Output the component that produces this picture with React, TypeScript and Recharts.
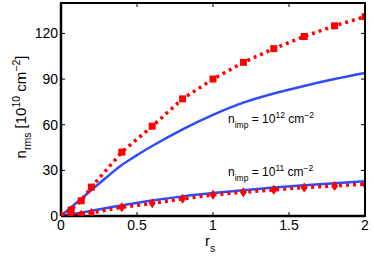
import { LineChart, Line, XAxis, YAxis } from 'recharts';

// n_imp = 1e12 cm^-2, red squares (dotted)
const rsHigh = [0, 0.067, 0.133, 0.2, 0.4, 0.6, 0.8, 1.0, 1.2, 1.4, 1.6, 1.8, 2.0];
const nHigh = [0, 4, 10, 19, 42, 59, 77, 90, 101, 110, 118, 125, 131];

// n_imp = 1e12 cm^-2, blue solid
const rsHighFit = [0, 0.1, 0.2, 0.3, 0.4, 0.5, 0.6, 0.8, 1.0, 1.2, 1.4, 1.6, 1.8, 2.0];
const nHighFit = [0, 8.5, 17, 25.5, 33.5, 40, 46, 57, 66.5, 74.5, 80.5, 85.5, 90, 94];

// n_imp = 1e11 cm^-2, red diamonds (dotted)
const rsLow = [0, 0.067, 0.133, 0.2, 0.4, 0.6, 0.8, 1.0, 1.2, 1.4, 1.6, 1.8, 2.0];
const nLow = [0, 0.5, 0.9, 2, 5.7, 8.3, 11.3, 13.9, 15.6, 17.2, 18.7, 19.8, 20.9];

// n_imp = 1e11 cm^-2, blue solid
const rsLowFit = [0, 0.1, 0.2, 0.4, 0.6, 0.8, 1.0, 1.2, 1.4, 1.6, 1.8, 2.0];
const nLowFit = [0, 1.6, 3.4, 7, 10.2, 12.9, 15.1, 17, 18.7, 20.2, 21.6, 22.8];

const xTicks = [0, 0.5, 1, 1.5, 2];
const yTicks = [0, 30, 60, 90, 120];
const X_MAX = 2;
const Y_MAX = 140;

const toRows = (xs: number[], ys: number[]) => xs.map((x, i) => ({ x, y: ys[i] }));

const W = 374;
const H = 257;
const M = { top: 3, right: 9, left: 61, bottom: 41 };
const RED = '#ff0000';
const BLUE = '#2e4cf7';
const FONT = 'Liberation Sans, Arial, sans-serif';

const Square = (p: any) => {
  if (p.cx == null || p.cy == null) return null;
  return <rect x={p.cx - 3.5} y={p.cy - 3.5} width={7} height={7} fill={RED} />;
};

const Diamond = (p: any) => {
  if (p.cx == null || p.cy == null) return null;
  const { cx, cy } = p;
  return <polygon points={`${cx},${cy - 5} ${cx + 3.5},${cy} ${cx},${cy + 5} ${cx - 3.5},${cy}`} fill={RED} />;
};

export default function App() {
  const tickStyle = { fontSize: 14, fill: '#000', fontFamily: FONT };
  const frame = { stroke: '#000', strokeWidth: 2.5 };
  const tl = { stroke: '#000', strokeWidth: 1 };
  const right = W - M.right;
  const top = M.top;
  const pw = W - M.left - M.right;
  const ph = H - M.top - M.bottom;
  return (
    <div style={{ position: 'absolute', left: 0, top: 0, width: W, height: H, background: '#fff' }}>
      <LineChart width={W} height={H} margin={{ top: M.top, right: M.right, left: 0, bottom: 0 }}>
        <XAxis dataKey="x" type="number" domain={[0, X_MAX]} ticks={xTicks} interval={0}
          allowDataOverflow tickFormatter={(v: number) => String(v)} height={M.bottom} tick={tickStyle}
          tickSize={-4} tickMargin={8} axisLine={frame} tickLine={tl} allowDuplicatedCategory={false} />
        <YAxis type="number" domain={[0, Y_MAX]} ticks={yTicks} interval={0} width={M.left} tick={tickStyle}
          allowDataOverflow tickSize={-4} tickMargin={7} axisLine={frame} tickLine={tl} />

        <Line data={toRows(rsHighFit, nHighFit)} dataKey="y" type="monotone" stroke={BLUE}
          strokeWidth={2.5} dot={false} isAnimationActive={false} />
        <Line data={toRows(rsLowFit, nLowFit)} dataKey="y" type="monotone" stroke={BLUE}
          strokeWidth={2.5} dot={false} isAnimationActive={false} />
        <Line data={toRows(rsHigh, nHigh)} dataKey="y" type="linear" stroke={RED}
          strokeWidth={3.5} strokeDasharray="3 4" dot={<Square />} isAnimationActive={false} />
        <Line data={toRows(rsLow, nLow)} dataKey="y" type="linear" stroke={RED}
          strokeWidth={3.5} strokeDasharray="3 4" dot={<Diamond />} isAnimationActive={false} />
      </LineChart>

      {/* box frame (top and right edges) as a plain CSS border */}
      <div style={{
        position: 'absolute', zIndex: 2, pointerEvents: 'none', boxSizing: 'border-box',
        left: M.left - 1, top: top - 1, width: pw + 2, height: ph + 2,
        borderTop: '2.5px solid #000', borderRight: '2.5px solid #000',
      }} />

      <svg width={W} height={H} style={{ position: 'absolute', left: 0, top: 0, zIndex: 3, pointerEvents: 'none' }}
        fontFamily={FONT} fill="#000">
        {xTicks.map(t => {
          const x = M.left + (t / X_MAX) * pw;
          return <line key={`x${t}`} x1={x} y1={top} x2={x} y2={top + 4} stroke="#000" strokeWidth={1} />;
        })}
        {yTicks.map(t => {
          const y = top + ph - (t / Y_MAX) * ph;
          return <line key={`y${t}`} x1={right} y1={y} x2={right - 4} y2={y} stroke="#000" strokeWidth={1} />;
        })}

        <text x={228} y={123} fontSize={12}>
          n<tspan fontSize={8.5} dy={5}>imp</tspan>
          <tspan dy={-5}> = 10</tspan>
          <tspan fontSize={8.5} dy={-5}>12</tspan>
          <tspan dy={5}> cm</tspan>
          <tspan fontSize={8.5} dy={-5}>−2</tspan>
        </text>
        <text x={228} y={176} fontSize={12}>
          n<tspan fontSize={8.5} dy={5}>imp</tspan>
          <tspan dy={-5}> = 10</tspan>
          <tspan fontSize={8.5} dy={-5}>11</tspan>
          <tspan dy={5}> cm</tspan>
          <tspan fontSize={8.5} dy={-5}>−2</tspan>
        </text>
        <text transform="translate(26,107) rotate(-90)" textAnchor="middle" fontSize={15}>
          n<tspan fontSize={10.5} dy={5}>rms</tspan>
          <tspan dy={-5}> [10</tspan>
          <tspan fontSize={10.5} dy={-6}>10</tspan>
          <tspan dy={6}> cm</tspan>
          <tspan fontSize={10.5} dy={-6}>−2</tspan>
          <tspan dy={6}>]</tspan>
        </text>
        <text x={205} y={246} fontSize={15}>
          r<tspan fontSize={10.5} dy={6}>s</tspan>
        </text>
      </svg>
    </div>
  );
}
